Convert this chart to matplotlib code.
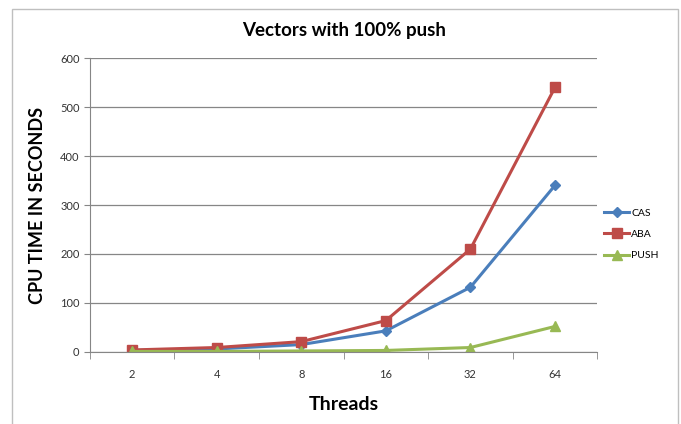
import matplotlib
matplotlib.use("Agg")
import matplotlib.pyplot as plt
import numpy as np
from matplotlib.patches import Rectangle

plt.rcParams['font.family'] = ['Lato', 'DejaVu Sans']

threads = ['2', '4', '8', '16', '32', '64']
cas = [3, 6, 15, 43, 132, 340]
aba = [4, 9, 21, 64, 210, 540]
push = [1, 1, 2, 3, 9, 52]

fig = plt.figure(figsize=(6.81, 4.24), dpi=100)
ax = fig.add_axes([0.132, 0.170, 0.745, 0.693])

# outer chart border like excel
fig.patches.append(Rectangle((12/681, -0.01), 666/681, 1 - 9/424 + 0.01, transform=fig.transFigure,
                             fill=False, edgecolor='#bfbfbf', lw=1))

x = np.arange(len(threads))
ax.plot(x, cas, color='#4A7EBB', lw=2.2, marker='D', ms=5, label='CAS')
ax.plot(x, aba, color='#BE4B48', lw=2.2, marker='s', ms=6.5, label='ABA')
ax.plot(x, push, color='#98B954', lw=2.2, marker='^', ms=7, label='PUSH')

ax.set_xlim(-0.5, len(threads) - 0.5)
ax.set_ylim(0, 600)
ax.set_yticks(range(0, 601, 100))
ax.set_xticks(x)
ax.set_xticklabels(threads)
ax.set_xticks(np.arange(-0.5, len(threads), 1), minor=True)
ax.tick_params(axis='x', which='major', length=0, pad=12, labelsize=8, colors='#333333')
ax.tick_params(axis='x', which='minor', length=5, color='#868686')
ax.tick_params(axis='y', length=4, color='#868686', labelsize=8, labelcolor='#333333')
ax.grid(axis='y', color='#868686', lw=0.9)
ax.set_axisbelow(True)

for s in ['top', 'right']:
    ax.spines[s].set_visible(False)
for s in ['left', 'bottom']:
    ax.spines[s].set_color('#868686')

ax.set_title('Vectors with 100% push', fontsize=13.5, fontweight='bold', pad=16)
ax.set_xlabel('Threads', fontsize=14, fontweight='bold', labelpad=12)
ax.set_ylabel('CPU TIME IN SECONDS', fontsize=13, fontweight='bold', labelpad=10)

ax.legend(loc='center left', bbox_to_anchor=(0.995, 0.40), frameon=False, fontsize=7.5,
          handlelength=2.4, handletextpad=0.2, labelspacing=1.15)

fig.savefig('out.png', dpi=100)
